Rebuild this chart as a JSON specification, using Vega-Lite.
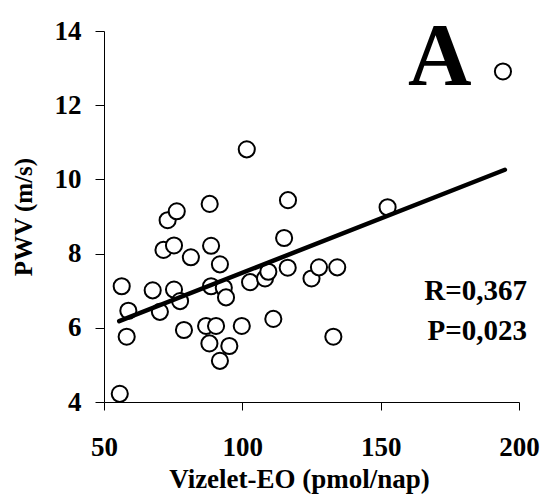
{
  "$schema": "https://vega.github.io/schema/vega-lite/v6.json",
  "width": 415,
  "height": 371,
  "autosize": {"type": "none"},
  "padding": {"left": 104, "top": 31, "right": 25, "bottom": 98},
  "background": "white",
  "config": {"view": {"stroke": null}, "font": "Liberation Serif"},
  "datasets": {
    "points": [
      {"eo": 55.7, "pwv": 4.22},
      {"eo": 56.4, "pwv": 7.12},
      {"eo": 58.8, "pwv": 6.46},
      {"eo": 58.2, "pwv": 5.76},
      {"eo": 67.6, "pwv": 7.01},
      {"eo": 70.2, "pwv": 6.43},
      {"eo": 71.5, "pwv": 8.1},
      {"eo": 73.0, "pwv": 8.9},
      {"eo": 75.3, "pwv": 8.22},
      {"eo": 75.3, "pwv": 7.03},
      {"eo": 76.3, "pwv": 9.14},
      {"eo": 77.5, "pwv": 6.72},
      {"eo": 78.9, "pwv": 5.94},
      {"eo": 81.4, "pwv": 7.9},
      {"eo": 86.9, "pwv": 6.05},
      {"eo": 88.1, "pwv": 5.58},
      {"eo": 88.2, "pwv": 9.34},
      {"eo": 88.7, "pwv": 8.21},
      {"eo": 88.7, "pwv": 7.12},
      {"eo": 90.5, "pwv": 6.05},
      {"eo": 91.9, "pwv": 7.71},
      {"eo": 91.9, "pwv": 5.11},
      {"eo": 93.3, "pwv": 7.08},
      {"eo": 94.1, "pwv": 6.82},
      {"eo": 95.3, "pwv": 5.51},
      {"eo": 99.8, "pwv": 6.05},
      {"eo": 101.6, "pwv": 10.81},
      {"eo": 102.8, "pwv": 7.23},
      {"eo": 108.2, "pwv": 7.33},
      {"eo": 109.4, "pwv": 7.51},
      {"eo": 111.2, "pwv": 6.24},
      {"eo": 115.1, "pwv": 8.42},
      {"eo": 116.5, "pwv": 9.44},
      {"eo": 116.4, "pwv": 7.62},
      {"eo": 125.0, "pwv": 7.33},
      {"eo": 127.7, "pwv": 7.63},
      {"eo": 132.9, "pwv": 5.76},
      {"eo": 134.3, "pwv": 7.63},
      {"eo": 152.5, "pwv": 9.25},
      {"eo": 194.2, "pwv": 12.91}
    ],
    "fit": [
      {"eo": 55.5, "pwv": 6.18},
      {"eo": 194.9, "pwv": 10.26}
    ],
    "stats": [
      {"eo": 202.9, "pwv": 6.75, "label": "R=0,367"},
      {"eo": 202.9, "pwv": 5.67, "label": "P=0,023"}
    ],
    "panel": [
      {"eo": 171.4, "pwv": 12.56, "label": "A"}
    ]
  },
  "layer": [
    {
      "data": {"name": "points"},
      "mark": {"type": "point", "shape": "circle", "filled": true, "fill": "white", "stroke": "black", "strokeWidth": 2, "size": 260, "opacity": 1},
      "encoding": {
        "x": {
          "field": "eo", "type": "quantitative",
          "scale": {"domain": [50, 200], "nice": false, "zero": false},
          "axis": {
            "title": "Vizelet-EO (pmol/nap)",
            "values": [50, 100, 150, 200],
            "grid": false,
            "domainColor": "black", "domainWidth": 1,
            "tickColor": "black", "tickSize": 8, "tickWidth": 1,
            "labelFont": "Liberation Serif", "labelFontWeight": "bold", "labelFontSize": 27, "labelColor": "black",
            "labelPadding": 24, "labelFlush": false,
            "titleFont": "Liberation Serif", "titleFontWeight": "bold", "titleFontSize": 27, "titleColor": "black",
            "titleX": 195, "titleY": 85, "titleBaseline": "alphabetic", "titleAlign": "center"
          }
        },
        "y": {
          "field": "pwv", "type": "quantitative",
          "scale": {"domain": [4, 14], "nice": false, "zero": false},
          "axis": {
            "title": "PWV (m/s)",
            "values": [4, 6, 8, 10, 12, 14],
            "grid": false,
            "domainColor": "black", "domainWidth": 1,
            "tickColor": "black", "tickSize": 9, "tickWidth": 1,
            "labelFont": "Liberation Serif", "labelFontWeight": "bold", "labelFontSize": 27, "labelColor": "black",
            "labelPadding": 14, "labelFlush": false,
            "titleFont": "Liberation Serif", "titleFontWeight": "bold", "titleFontSize": 25, "titleColor": "black",
            "titlePadding": 18
          }
        }
      }
    },
    {
      "data": {"name": "fit"},
      "mark": {"type": "line", "color": "black", "strokeWidth": 4.5, "strokeCap": "round"},
      "encoding": {
        "x": {"field": "eo", "type": "quantitative"},
        "y": {"field": "pwv", "type": "quantitative"}
      }
    },
    {
      "data": {"name": "stats"},
      "mark": {"type": "text", "font": "Liberation Serif", "fontWeight": "bold", "fontSize": 29, "align": "right", "baseline": "alphabetic", "color": "black"},
      "encoding": {
        "x": {"field": "eo", "type": "quantitative"},
        "y": {"field": "pwv", "type": "quantitative"},
        "text": {"field": "label"}
      }
    },
    {
      "data": {"name": "panel"},
      "mark": {"type": "text", "font": "Liberation Serif", "fontWeight": "bold", "fontSize": 88, "align": "center", "baseline": "alphabetic", "color": "black"},
      "encoding": {
        "x": {"field": "eo", "type": "quantitative"},
        "y": {"field": "pwv", "type": "quantitative"},
        "text": {"field": "label"}
      }
    }
  ]
}
